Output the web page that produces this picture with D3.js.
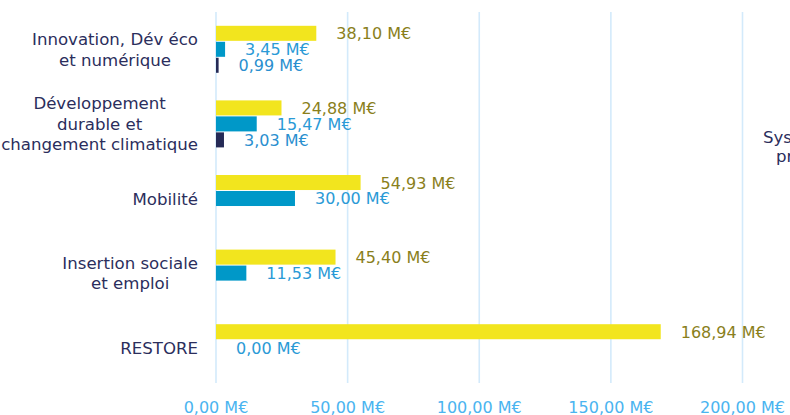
<!DOCTYPE html>
<html>
<head>
<meta charset="utf-8">
<script src="https://cdn.jsdelivr.net/npm/d3@7"></script>
<style>
  html, body { margin: 0; padding: 0; background: #ffffff; overflow: hidden; }
  svg { display: block; }
</style>
</head>
<body>
<svg id="chart" width="790" height="415"></svg>
<script>
// ---- Data ----
const categories = [
  ["Innovation, Dév éco", "et numérique"],
  ["Développement", "durable et", "changement climatique"],
  ["Mobilité"],
  ["Insertion sociale", "et emploi"],
  ["RESTORE"]
];
const seriesYellow = [38.10, 24.88, 54.93, 45.40, 168.94];
const seriesBlue   = [3.45, 15.47, 30.00, 11.53, 0.00];
const seriesDark   = [0.99, 3.03, null, null, null];
const tickValues   = [0, 50, 100, 150, 200];
const neighbourLabel = ["Systèmes", "productifs"];

const seriesNames = ["yellow", "blue", "dark"];
const seriesData = { yellow: seriesYellow, blue: seriesBlue, dark: seriesDark };
const barColors = { yellow: "#f2e51e", blue: "#0098c8", dark: "#252a56" };
const labelColors = { yellow: "#8a7f1c", blue: "#2a9ad6", dark: "#2a8fcf" };

const svg = d3.select("#chart");
const font = "'DejaVu Sans', Verdana, sans-serif";

const x = d3.scaleLinear().domain([0, 200]).range([216, 742.5]);
const y = d3.scaleBand().domain(d3.range(categories.length))
  .range([12, 385]).paddingInner(0.37).paddingOuter(0.185);
const ySub = d3.scaleBand().domain(seriesNames)
  .range([0, y.bandwidth()]).paddingInner(0.06).paddingOuter(0);

const fmt = v => v.toFixed(2).replace(".", ",") + " M€";

// gridlines
svg.append("g").selectAll("line").data(tickValues).join("line")
  .attr("x1", d => x(d)).attr("x2", d => x(d))
  .attr("y1", 12).attr("y2", 383)
  .attr("stroke", "#d3eafb").attr("stroke-width", 1.6);

// tick labels
svg.append("g").selectAll("text").data(tickValues).join("text")
  .attr("x", d => x(d)).attr("y", 413)
  .attr("text-anchor", "middle")
  .attr("font-family", font).attr("font-size", 16)
  .attr("fill", "#4ab4f0")
  .text(d => fmt(d));

// bars + value labels
const groups = svg.append("g").selectAll("g").data(categories).join("g")
  .attr("transform", (d, i) => `translate(0,${y(i)})`);

seriesNames.forEach(s => {
  groups.filter((d, i) => seriesData[s][i] !== null)
    .append("rect")
    .attr("x", x(0))
    .attr("y", ySub(s))
    .attr("width", function(d) { const i = categories.indexOf(d); return x(seriesData[s][i]) - x(0); })
    .attr("height", ySub.bandwidth())
    .attr("fill", barColors[s]);
  groups.filter((d, i) => seriesData[s][i] !== null)
    .append("text")
    .attr("x", function(d) { const i = categories.indexOf(d); return x(seriesData[s][i]) + 20; })
    .attr("y", ySub(s) + ySub.bandwidth() / 2 + 6)
    .attr("font-family", font).attr("font-size", 16)
    .attr("fill", labelColors[s])
    .text(function(d) { const i = categories.indexOf(d); return fmt(seriesData[s][i]); });
});

// category labels (each block right-aligned at 198, lines centered within block)
const lh = 20.5;
categories.forEach((lines, i) => {
  const cy = y(i) + y.bandwidth() / 2;
  const t = svg.append("text")
    .attr("font-family", font).attr("font-size", 16.6)
    .attr("fill", "#2b2e5c")
    .attr("text-anchor", "middle");
  const spans = lines.map((line, k) => t.append("tspan")
    .attr("y", cy + (k - (lines.length - 1) / 2) * lh + 6)
    .text(line));
  const maxW = d3.max(spans, sp => sp.node().getComputedTextLength());
  spans.forEach(sp => sp.attr("x", 198 - maxW / 2));
});

// neighbouring chart label (clipped at the right edge)
svg.append("text").attr("x", 763).attr("y", 143)
  .attr("font-family", font).attr("font-size", 16.6).attr("fill", "#2b2e5c")
  .text(neighbourLabel[0]);
svg.append("text").attr("x", 776).attr("y", 162)
  .attr("font-family", font).attr("font-size", 16.6).attr("fill", "#2b2e5c")
  .text(neighbourLabel[1]);
</script>
</body>
</html>
